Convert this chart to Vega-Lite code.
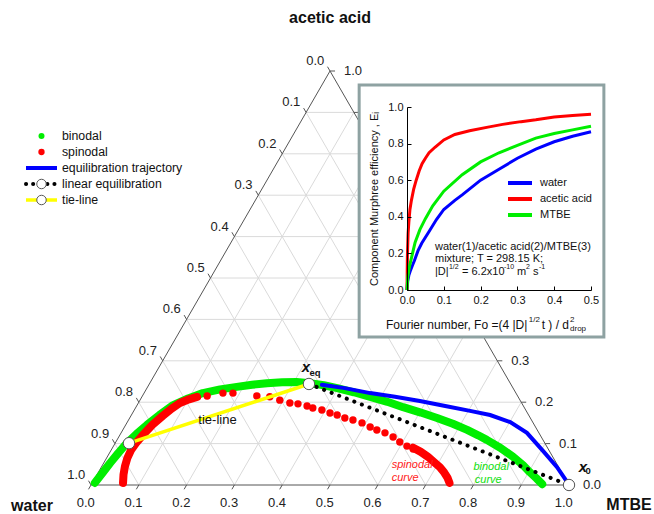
{
"$schema":"https://vega.github.io/schema/vega-lite/v6.json",
"width":654,"height":514,"autosize":"none","padding":0,"background":"white",
"config":{"view":{"stroke":null},"font":"Liberation Sans","text":{"font":"Liberation Sans"}},
"datasets":{
"grid":[
{"x":0.05,"y":0.1,"x2":0.95,"y2":0.1},{"x":0.1,"y":0.2,"x2":0.9,"y2":0.2},{"x":0.15,"y":0.3,"x2":0.85,"y2":0.3},{"x":0.2,"y":0.4,"x2":0.8,"y2":0.4},{"x":0.25,"y":0.5,"x2":0.75,"y2":0.5},{"x":0.3,"y":0.6,"x2":0.7,"y2":0.6},{"x":0.35,"y":0.7,"x2":0.65,"y2":0.7},{"x":0.4,"y":0.8,"x2":0.6,"y2":0.8},{"x":0.45,"y":0.9,"x2":0.55,"y2":0.9},
{"x":0.1,"y":0,"x2":0.55,"y2":0.9},{"x":0.2,"y":0,"x2":0.6,"y2":0.8},{"x":0.3,"y":0,"x2":0.65,"y2":0.7},{"x":0.4,"y":0,"x2":0.7,"y2":0.6},{"x":0.5,"y":0,"x2":0.75,"y2":0.5},{"x":0.6,"y":0,"x2":0.8,"y2":0.4},{"x":0.7,"y":0,"x2":0.85,"y2":0.3},{"x":0.8,"y":0,"x2":0.9,"y2":0.2},{"x":0.9,"y":0,"x2":0.95,"y2":0.1},
{"x":0.9,"y":0,"x2":0.45,"y2":0.9},{"x":0.8,"y":0,"x2":0.4,"y2":0.8},{"x":0.7,"y":0,"x2":0.35,"y2":0.7},{"x":0.6,"y":0,"x2":0.3,"y2":0.6},{"x":0.5,"y":0,"x2":0.25,"y2":0.5},{"x":0.4,"y":0,"x2":0.2,"y2":0.4},{"x":0.3,"y":0,"x2":0.15,"y2":0.3},{"x":0.2,"y":0,"x2":0.1,"y2":0.2},{"x":0.1,"y":0,"x2":0.05,"y2":0.1}],
"edges":[{"x":0,"y":0,"x2":1,"y2":0},{"x":0,"y":0,"x2":0.5,"y2":1},{"x":1,"y":0,"x2":0.5,"y2":1}],
"ticks":[
{"x":0,"y":0,"x2":-0.0052,"y2":-0.0104},{"x":0.1,"y":0,"x2":0.0948,"y2":-0.0104},{"x":0.2,"y":0,"x2":0.1948,"y2":-0.0104},{"x":0.3,"y":0,"x2":0.2948,"y2":-0.0104},{"x":0.4,"y":0,"x2":0.3948,"y2":-0.0104},{"x":0.5,"y":0,"x2":0.4948,"y2":-0.0104},{"x":0.6,"y":0,"x2":0.5948,"y2":-0.0104},{"x":0.7,"y":0,"x2":0.6948,"y2":-0.0104},{"x":0.8,"y":0,"x2":0.7948,"y2":-0.0104},{"x":0.9,"y":0,"x2":0.8948,"y2":-0.0104},{"x":1,"y":0,"x2":0.9948,"y2":-0.0104},
{"x":0.5,"y":1,"x2":0.4948,"y2":1.0104},{"x":0.45,"y":0.9,"x2":0.4448,"y2":0.9104},{"x":0.4,"y":0.8,"x2":0.3948,"y2":0.8104},{"x":0.35,"y":0.7,"x2":0.3448,"y2":0.7104},{"x":0.3,"y":0.6,"x2":0.2948,"y2":0.6104},{"x":0.25,"y":0.5,"x2":0.2448,"y2":0.5104},{"x":0.2,"y":0.4,"x2":0.1948,"y2":0.4104},{"x":0.15,"y":0.3,"x2":0.1448,"y2":0.3104},{"x":0.1,"y":0.2,"x2":0.0948,"y2":0.2104},{"x":0.05,"y":0.1,"x2":0.0448,"y2":0.1104},{"x":0,"y":0,"x2":-0.0052,"y2":0.0104},
{"x":1,"y":0,"x2":1.0105,"y2":0},{"x":0.95,"y":0.1,"x2":0.9605,"y2":0.1},{"x":0.9,"y":0.2,"x2":0.9105,"y2":0.2},{"x":0.85,"y":0.3,"x2":0.8605,"y2":0.3},{"x":0.8,"y":0.4,"x2":0.8105,"y2":0.4},{"x":0.75,"y":0.5,"x2":0.7605,"y2":0.5},{"x":0.7,"y":0.6,"x2":0.7105,"y2":0.6},{"x":0.65,"y":0.7,"x2":0.6605,"y2":0.7},{"x":0.6,"y":0.8,"x2":0.6105,"y2":0.8},{"x":0.55,"y":0.9,"x2":0.5605,"y2":0.9},{"x":0.5,"y":1,"x2":0.5105,"y2":1}],
"ticklabels":[
{"x":-0.011,"y":-0.0435,"t":"0.0"},{"x":0.089,"y":-0.0435,"t":"0.1"},{"x":0.189,"y":-0.0435,"t":"0.2"},{"x":0.289,"y":-0.0435,"t":"0.3"},{"x":0.389,"y":-0.0435,"t":"0.4"},{"x":0.489,"y":-0.0435,"t":"0.5"},{"x":0.589,"y":-0.0435,"t":"0.6"},{"x":0.689,"y":-0.0435,"t":"0.7"},{"x":0.789,"y":-0.0435,"t":"0.8"},{"x":0.889,"y":-0.0435,"t":"0.9"},{"x":0.989,"y":-0.0435,"t":"1.0"},
{"x":0.469,"y":1.024,"t":"0.0"},{"x":0.419,"y":0.924,"t":"0.1"},{"x":0.369,"y":0.824,"t":"0.2"},{"x":0.319,"y":0.724,"t":"0.3"},{"x":0.269,"y":0.624,"t":"0.4"},{"x":0.219,"y":0.524,"t":"0.5"},{"x":0.169,"y":0.424,"t":"0.6"},{"x":0.119,"y":0.324,"t":"0.7"},{"x":0.069,"y":0.224,"t":"0.8"},{"x":0.019,"y":0.124,"t":"0.9"},{"x":-0.031,"y":0.024,"t":"1.0"},
{"x":1.048,"y":0,"t":"0.0"},{"x":0.998,"y":0.1,"t":"0.1"},{"x":0.948,"y":0.2,"t":"0.2"},{"x":0.898,"y":0.3,"t":"0.3"},{"x":0.848,"y":0.4,"t":"0.4"},{"x":0.798,"y":0.5,"t":"0.5"},{"x":0.748,"y":0.6,"t":"0.6"},{"x":0.698,"y":0.7,"t":"0.7"},{"x":0.648,"y":0.8,"t":"0.8"},{"x":0.598,"y":0.9,"t":"0.9"},{"x":0.548,"y":1.0,"t":"1.0"}],
"vertices":[{"x":0.5,"y":1.128,"t":"acetic acid"},{"x":-0.1234,"y":-0.0507,"t":"water"},{"x":1.1255,"y":-0.0483,"t":"MTBE"}],
"binodal":[{"x":0.008,"y":0.005},{"x":0.024,"y":0.029},{"x":0.04,"y":0.053},{"x":0.057,"y":0.077},{"x":0.075,"y":0.101},{"x":0.095,"y":0.123},{"x":0.117,"y":0.145},{"x":0.143,"y":0.169},{"x":0.172,"y":0.193},{"x":0.203,"y":0.209},{"x":0.234,"y":0.222},{"x":0.27,"y":0.231},{"x":0.305,"y":0.237},{"x":0.337,"y":0.242},{"x":0.368,"y":0.246},{"x":0.4,"y":0.248},{"x":0.43,"y":0.249},{"x":0.458,"y":0.246},{"x":0.487,"y":0.241},{"x":0.515,"y":0.234},{"x":0.55,"y":0.224},{"x":0.584,"y":0.213},{"x":0.62,"y":0.201},{"x":0.653,"y":0.188},{"x":0.69,"y":0.175},{"x":0.724,"y":0.162},{"x":0.757,"y":0.148},{"x":0.787,"y":0.133},{"x":0.81,"y":0.12},{"x":0.828,"y":0.109},{"x":0.856,"y":0.09},{"x":0.883,"y":0.068},{"x":0.903,"y":0.049},{"x":0.918,"y":0.031},{"x":0.932,"y":0.016},{"x":0.944,"y":0.002}],
"spinlines":[{"seg":"a","x":0.067,"y":0.005},{"seg":"a","x":0.068,"y":0.025},{"seg":"a","x":0.071,"y":0.045},{"seg":"a","x":0.076,"y":0.065},{"seg":"a","x":0.084,"y":0.085},{"seg":"a","x":0.094,"y":0.101},{"seg":"a","x":0.108,"y":0.12},{"seg":"a","x":0.128,"y":0.145},{"seg":"a","x":0.15,"y":0.167},{"seg":"a","x":0.168,"y":0.184},{"seg":"a","x":0.186,"y":0.198},{"seg":"a","x":0.205,"y":0.207},{"seg":"a","x":0.222,"y":0.213},
{"seg":"b","x":0.674,"y":0.09},{"seg":"b","x":0.69,"y":0.08},{"seg":"b","x":0.705,"y":0.068},{"seg":"b","x":0.718,"y":0.055},{"seg":"b","x":0.73,"y":0.043},{"seg":"b","x":0.739,"y":0.03},{"seg":"b","x":0.746,"y":0.017},{"seg":"b","x":0.75,"y":0.005}],
"spindots":[{"x":0.243,"y":0.215},{"x":0.276,"y":0.222},{"x":0.297,"y":0.222},{"x":0.347,"y":0.215},{"x":0.374,"y":0.213},{"x":0.395,"y":0.205},{"x":0.416,"y":0.198},{"x":0.433,"y":0.196},{"x":0.452,"y":0.191},{"x":0.464,"y":0.186},{"x":0.483,"y":0.181},{"x":0.5,"y":0.174},{"x":0.515,"y":0.169},{"x":0.531,"y":0.162},{"x":0.548,"y":0.157},{"x":0.567,"y":0.15},{"x":0.584,"y":0.14},{"x":0.598,"y":0.133},{"x":0.615,"y":0.126},{"x":0.632,"y":0.116},{"x":0.646,"y":0.104},{"x":0.661,"y":0.094},{"x":0.674,"y":0.087}],
"trajectory":[{"x":0.483,"y":0.242},{"x":0.531,"y":0.234},{"x":0.584,"y":0.222},{"x":0.636,"y":0.213},{"x":0.688,"y":0.203},{"x":0.741,"y":0.191},{"x":0.793,"y":0.179},{"x":0.835,"y":0.169},{"x":0.877,"y":0.152},{"x":0.912,"y":0.126},{"x":0.946,"y":0.082},{"x":0.975,"y":0.043},{"x":0.997,"y":0.006}],
"linear":[{"x":0.456,"y":0.244,"x2":1,"y2":0}],
"tieline":[{"x":0.0795,"y":0.101,"x2":0.456,"y2":0.244}],
"circles":[{"x":0.0795,"y":0.101},{"x":0.456,"y":0.244},{"x":1,"y":0}],
"redlabels":[{"x":0.629,"y":0.048,"t":"spinodal"},{"x":0.629,"y":0.017,"t":"curve"}],
"greenlabels":[{"x":0.8,"y":0.0435,"t":"binodal"},{"x":0.803,"y":0.012,"t":"curve"}],
"tielabel":[{"x":0.2646,"y":0.157,"t":"tie-line"}],
"xmain":[{"x":0.4498,"y":0.285,"t":"x"},{"x":1.029,"y":0.0435,"t":"x"}],
"xsub":[{"x":0.4686,"y":0.2705,"t":"eq"},{"x":1.040,"y":0.034,"t":"0"}],
"frame":[{"x":-0.13,"x2":0.535,"y":-0.257,"y2":1.12}],
"eff":[
{"series":"water","x":0,"y":0},{"series":"water","x":0.002,"y":0.05},{"series":"water","x":0.005,"y":0.08},{"series":"water","x":0.01,"y":0.11},{"series":"water","x":0.015,"y":0.135},{"series":"water","x":0.02,"y":0.16},{"series":"water","x":0.03,"y":0.215},{"series":"water","x":0.04,"y":0.255},{"series":"water","x":0.06,"y":0.32},{"series":"water","x":0.08,"y":0.385},{"series":"water","x":0.1,"y":0.44},{"series":"water","x":0.13,"y":0.49},{"series":"water","x":0.15,"y":0.52},{"series":"water","x":0.2,"y":0.6},{"series":"water","x":0.25,"y":0.66},{"series":"water","x":0.3,"y":0.72},{"series":"water","x":0.35,"y":0.77},{"series":"water","x":0.4,"y":0.81},{"series":"water","x":0.45,"y":0.84},{"series":"water","x":0.5,"y":0.865},
{"series":"acetic acid","x":0,"y":0},{"series":"acetic acid","x":0.001,"y":0.18},{"series":"acetic acid","x":0.003,"y":0.31},{"series":"acetic acid","x":0.005,"y":0.37},{"series":"acetic acid","x":0.008,"y":0.44},{"series":"acetic acid","x":0.012,"y":0.49},{"series":"acetic acid","x":0.018,"y":0.55},{"series":"acetic acid","x":0.025,"y":0.6},{"series":"acetic acid","x":0.033,"y":0.65},{"series":"acetic acid","x":0.041,"y":0.69},{"series":"acetic acid","x":0.05,"y":0.72},{"series":"acetic acid","x":0.06,"y":0.75},{"series":"acetic acid","x":0.076,"y":0.78},{"series":"acetic acid","x":0.1,"y":0.82},{"series":"acetic acid","x":0.13,"y":0.85},{"series":"acetic acid","x":0.17,"y":0.87},{"series":"acetic acid","x":0.22,"y":0.89},{"series":"acetic acid","x":0.26,"y":0.905},{"series":"acetic acid","x":0.31,"y":0.92},{"series":"acetic acid","x":0.35,"y":0.93},{"series":"acetic acid","x":0.4,"y":0.945},{"series":"acetic acid","x":0.45,"y":0.953},{"series":"acetic acid","x":0.5,"y":0.96},
{"series":"MTBE","x":0,"y":0},{"series":"MTBE","x":0.002,"y":0.07},{"series":"MTBE","x":0.005,"y":0.11},{"series":"MTBE","x":0.008,"y":0.14},{"series":"MTBE","x":0.015,"y":0.2},{"series":"MTBE","x":0.022,"y":0.26},{"series":"MTBE","x":0.035,"y":0.33},{"series":"MTBE","x":0.05,"y":0.39},{"series":"MTBE","x":0.07,"y":0.46},{"series":"MTBE","x":0.1,"y":0.54},{"series":"MTBE","x":0.15,"y":0.63},{"series":"MTBE","x":0.2,"y":0.7},{"series":"MTBE","x":0.25,"y":0.75},{"series":"MTBE","x":0.3,"y":0.79},{"series":"MTBE","x":0.35,"y":0.83},{"series":"MTBE","x":0.4,"y":0.855},{"series":"MTBE","x":0.45,"y":0.875},{"series":"MTBE","x":0.5,"y":0.895}],
"note":[{"x":0.076,"y":0.235,"t":"water(1)/acetic acid(2)/MTBE(3)"},{"x":0.076,"y":0.167,"t":"mixture; T = 298.15 K;"},{"x":0.076,"y":0.096,"t":"|D|"},{"x":0.1495,"y":0.096,"t":"= 6.2x10"},{"x":0.299,"y":0.096,"t":"m"},{"x":0.3424,"y":0.096,"t":"s"}],
"notesup":[{"x":0.114,"y":0.124,"t":"1/2"},{"x":0.2636,"y":0.124,"t":"-10"},{"x":0.3234,"y":0.124,"t":"2"},{"x":0.3587,"y":0.124,"t":"-1"}],
"xtitle":[{"x":-0.057,"y":-0.1913,"t":"Fourier number, Fo =(4 |D|"},{"x":0.366,"y":-0.1913,"t":"t ) / d"}],
"xtitlesmall":[{"x":0.331,"y":-0.166,"t":"1/2"},{"x":0.443,"y":-0.215,"t":"drop"},{"x":0.443,"y":-0.163,"t":"2"}],
"legend":[{"rank":1,"label":"binodal"},{"rank":2,"label":"spinodal"},{"rank":3,"label":"equilibration trajectory"},{"rank":4,"label":"linear equilibration"},{"rank":5,"label":"tie-line"}]
},
"layer":[
{
"encoding":{
"x":{"field":"x","type":"quantitative","scale":{"domain":[0,1],"range":[91,569],"nice":false,"zero":false},"axis":null},
"y":{"field":"y","type":"quantitative","scale":{"domain":[0,1],"range":[485,71],"nice":false,"zero":false},"axis":null}},
"layer":[
{"data":{"name":"grid"},"mark":{"type":"rule","color":"#dadada","strokeWidth":1},"encoding":{"x2":{"field":"x2"},"y2":{"field":"y2"}}},
{"data":{"name":"edges"},"mark":{"type":"rule","color":"#555555","strokeWidth":1},"encoding":{"x2":{"field":"x2"},"y2":{"field":"y2"}}},
{"data":{"name":"ticks"},"mark":{"type":"rule","color":"#555555","strokeWidth":1},"encoding":{"x2":{"field":"x2"},"y2":{"field":"y2"}}},
{"data":{"name":"ticklabels"},"mark":{"type":"text","fontSize":13,"color":"#222222","align":"center","baseline":"middle"},"encoding":{"text":{"field":"t"}}},
{"data":{"name":"vertices"},"mark":{"type":"text","fontSize":16,"fontWeight":"bold","color":"#111111","align":"center","baseline":"middle"},"encoding":{"text":{"field":"t"}}},
{"data":{"name":"binodal"},"mark":{"type":"line","color":"#00ee00","strokeWidth":8,"strokeCap":"round","strokeJoin":"round"},"encoding":{}},
{"data":{"name":"spinlines"},"mark":{"type":"line","color":"#ff0000","strokeWidth":8,"strokeCap":"round","strokeJoin":"round"},"encoding":{"detail":{"field":"seg"}}},
{"data":{"name":"spindots"},"mark":{"type":"point","filled":true,"color":"#ff0000","size":55,"opacity":1},"encoding":{}},
{"data":{"name":"trajectory"},"mark":{"type":"line","color":"#0000ff","strokeWidth":4,"strokeCap":"round"},"encoding":{}},
{"data":{"name":"linear"},"mark":{"type":"rule","color":"#000000","strokeWidth":4,"strokeDash":[0.1,8],"strokeCap":"round"},"encoding":{"x2":{"field":"x2"},"y2":{"field":"y2"}}},
{"data":{"name":"tieline"},"mark":{"type":"rule","color":"#ffff00","strokeWidth":3.5},"encoding":{"x2":{"field":"x2"},"y2":{"field":"y2"}}},
{"data":{"name":"circles"},"mark":{"type":"point","filled":true,"fill":"white","stroke":"#555555","strokeWidth":1,"size":130,"opacity":1},"encoding":{}},
{"data":{"name":"redlabels"},"mark":{"type":"text","fontSize":11,"fontStyle":"italic","color":"#ff2020","align":"left","baseline":"middle"},"encoding":{"text":{"field":"t"}}},
{"data":{"name":"greenlabels"},"mark":{"type":"text","fontSize":11,"fontStyle":"italic","color":"#10e010","align":"left","baseline":"middle"},"encoding":{"text":{"field":"t"}}},
{"data":{"name":"tielabel"},"mark":{"type":"text","fontSize":13,"color":"#111111","align":"center","baseline":"middle"},"encoding":{"text":{"field":"t"}}},
{"data":{"name":"xmain"},"mark":{"type":"text","fontSize":15,"fontStyle":"italic","fontWeight":"bold","color":"#111111","align":"center","baseline":"middle"},"encoding":{"text":{"field":"t"}}},
{"data":{"name":"xsub"},"mark":{"type":"text","fontSize":9.5,"fontWeight":"bold","color":"#111111","align":"center","baseline":"middle"},"encoding":{"text":{"field":"t"}}}
]},
{
"encoding":{
"x":{"field":"x","type":"quantitative","scale":{"domain":[0,0.5],"range":[407,591],"nice":false,"zero":false},
 "axis":{"orient":"bottom","offset":-224,"values":[0,0.1,0.2,0.3,0.4,0.5],"format":".1f","title":null,"grid":false,"domainColor":"#000000","tickColor":"#000000","tickSize":-4,"labelPadding":8,"labelFontSize":11,"labelColor":"#111111","labelFlush":false,"labelOverlap":false,"zindex":1}},
"y":{"field":"y","type":"quantitative","scale":{"domain":[0,1],"range":[290,107],"nice":false,"zero":false},
 "axis":{"orient":"left","offset":-407,"values":[0,0.2,0.4,0.6,0.8,1],"format":".1f","title":"Component Murphree efficiency , Eᵢ","titleFontSize":11,"titleFontWeight":"normal","titleColor":"#111111","titlePadding":8,"grid":false,"domainColor":"#000000","tickColor":"#000000","tickSize":-4,"labelPadding":8,"labelFontSize":11,"labelColor":"#111111","labelFlush":false,"labelOverlap":false,"zindex":1}}},
"layer":[
{"data":{"name":"frame"},"mark":{"type":"rect","fill":"white","stroke":"#8ea2a2","strokeWidth":3},"encoding":{"x2":{"field":"x2"},"y2":{"field":"y2"}}},
{"data":{"name":"eff"},"mark":{"type":"line","strokeWidth":3},"encoding":{"color":{"field":"series","type":"nominal","scale":{"domain":["water","acetic acid","MTBE"],"range":["#0000ff","#ff0000","#00ee00"]},
 "legend":{"orient":"none","legendX":514,"legendY":177,"title":null,"symbolType":"M-3,0H3","symbolStrokeWidth":4,"symbolSize":64,"labelFontSize":11,"labelOffset":14,"rowPadding":0,"padding":0,"labelColor":"#111111"}}}},
{"data":{"name":"note"},"mark":{"type":"text","fontSize":11,"color":"#111111","align":"left","baseline":"middle"},"encoding":{"text":{"field":"t"}}},
{"data":{"name":"notesup"},"mark":{"type":"text","fontSize":7,"color":"#111111","align":"left","baseline":"middle"},"encoding":{"text":{"field":"t"}}},
{"data":{"name":"xtitle"},"mark":{"type":"text","fontSize":12,"color":"#111111","align":"left","baseline":"middle"},"encoding":{"text":{"field":"t"}}},
{"data":{"name":"xtitlesmall"},"mark":{"type":"text","fontSize":8,"color":"#111111","align":"left","baseline":"middle"},"encoding":{"text":{"field":"t"}}}
]},
{
"data":{"name":"legend"},
"encoding":{
"x":{"datum":0.5,"type":"quantitative","scale":{"domain":[0,1],"range":[26,57],"nice":false,"zero":false},"axis":null},
"y":{"field":"rank","type":"quantitative","scale":{"domain":[1,5],"range":[136,200],"nice":false,"zero":false},"axis":null}},
"layer":[
{"mark":{"type":"text","align":"left","baseline":"middle","fontSize":12.3,"color":"#111111"},"encoding":{"x":{"datum":1.16,"type":"quantitative"},"text":{"field":"label"}}},
{"transform":[{"filter":"datum.rank==1"}],"mark":{"type":"point","filled":true,"color":"#00ee00","size":36,"opacity":1}},
{"transform":[{"filter":"datum.rank==2"}],"mark":{"type":"point","filled":true,"color":"#ff0000","size":40,"opacity":1}},
{"transform":[{"filter":"datum.rank==3"}],"mark":{"type":"rule","color":"#0000ff","strokeWidth":4},"encoding":{"x":{"datum":0,"type":"quantitative"},"x2":{"datum":1}}},
{"transform":[{"filter":"datum.rank==4"}],"mark":{"type":"rule","color":"#000000","strokeWidth":4,"strokeDash":[0.1,7],"strokeCap":"round"},"encoding":{"x":{"datum":0,"type":"quantitative"},"x2":{"datum":1}}},
{"transform":[{"filter":"datum.rank==5"}],"mark":{"type":"rule","color":"#ffff00","strokeWidth":3.5},"encoding":{"x":{"datum":0,"type":"quantitative"},"x2":{"datum":1}}},
{"transform":[{"filter":"datum.rank>=4"}],"mark":{"type":"point","filled":true,"fill":"white","stroke":"#555555","strokeWidth":1,"size":90,"opacity":1}}
]}
],
"resolve":{"scale":{"x":"independent","y":"independent"}}
}
